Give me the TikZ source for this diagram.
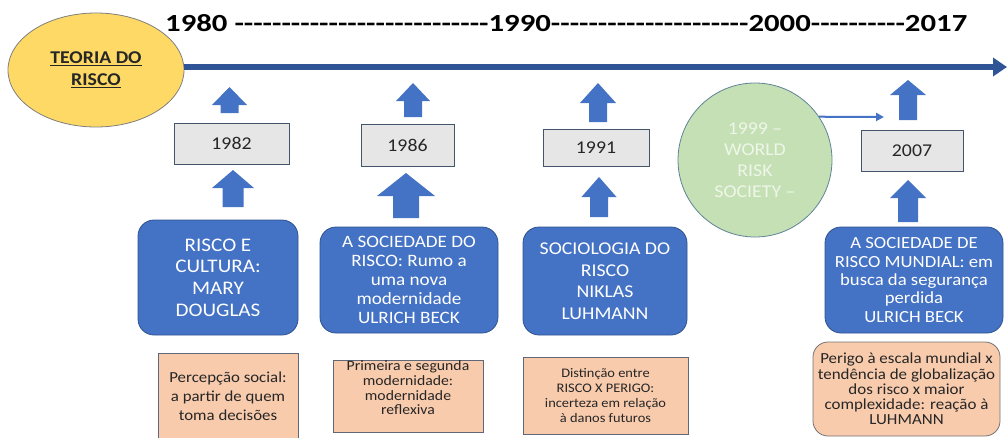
\documentclass[tikz,border=0pt]{standalone}
\usepackage{fontspec}
\setmainfont{Carlito}[FakeStretch=1.1]
\newfontfamily\yearfont{Carlito}[FakeStretch=1.25]
\usetikzlibrary{arrows.meta,shapes.geometric}
\definecolor{bluebox}{HTML}{4472C4}
\definecolor{blueline}{HTML}{2F5597}
\definecolor{blueedge}{HTML}{2F528F}
\definecolor{graybox}{HTML}{E7E6E6}
\definecolor{grayedge}{HTML}{44546A}
\definecolor{peach}{HTML}{F8CBAD}
\definecolor{peachedge}{HTML}{5E6878}
\definecolor{goldfill}{HTML}{FFD966}
\definecolor{goldedge}{HTML}{7F7F7F}
\definecolor{leafgreen}{HTML}{C5E0B4}
\definecolor{leafedge}{HTML}{5F8497}
\definecolor{leaftext}{HTML}{EEF6E9}
\newcommand\dashrun[1]{\foreach \i in {1,...,#1}{\hbox{-}}}
% x, ytop, ybottom, head half width, shaft half width, head length
\newcommand\blkarr[6]{\fill[bluebox] ({#1-#5},#3) -- ({#1-#5},{#2+#6}) -- ({#1-#4},{#2+#6}) -- (#1,#2) -- ({#1+#4},{#2+#6}) -- ({#1+#5},{#2+#6}) -- ({#1+#5},#3) -- cycle;}
\tikzset{
  yearbox/.style={draw=grayedge, line width=0.8pt, fill=graybox, text=black!85, inner sep=0pt, font=\fontsize{18}{20}\selectfont},
  bluecard/.style={draw=blueedge, line width=0.8pt, fill=bluebox, text=white, rounded corners=16pt, inner sep=0pt, align=center},
  peachcard/.style={draw=peachedge, line width=0.8pt, fill=peach, text=black!85, inner sep=0pt, align=center},
}
\begin{document}
\begin{tikzpicture}[x=1pt,y=-1pt]
\useasboundingbox (0,0) rectangle (1008,437);
% title line of years
\node[anchor=base west, inner sep=0pt, font=\yearfont\bfseries\fontsize{24.6}{30}\selectfont] (years) at (165,31.7)
  {1980 \dashrun{27}1990\dashrun{21}2000\dashrun{10}2017};
% theory ellipse
\node[ellipse, draw=goldedge, line width=0.8pt, fill=goldfill, minimum width=176, minimum height=114, inner sep=0pt,
  align=center, text=black!85, font=\bfseries\fontsize{18}{21.7}\selectfont] (teoria) at (96,70)
  {\underline{TEORIA DO}\\\underline{RISCO}};
% timeline
\coordinate (tlend) at (1007,67);
\draw[blueline, line width=5.5pt, -{Triangle[length=14pt,width=18pt]}] (teoria.east |- tlend) -- (tlend);
% year boxes
\node[yearbox, minimum width=115, minimum height=41] (y1982) at (231.5,143.5) {1982};
\node[yearbox, minimum width=93, minimum height=42] (y1986) at (407.5,145) {1986};
\node[yearbox, minimum width=106, minimum height=37] (y1991) at (596,147.5) {1991};
\node[yearbox, minimum width=102, minimum height=41] (y2007) at (912,150.5) {2007};
% blue cards
\node[bluecard, minimum width=160, minimum height=115, font=\fontsize{19.2}{21.7}\selectfont] (b1) at (218,277.5)
  {RISCO E\\CULTURA:\\MARY\\DOUGLAS};
\node[bluecard, minimum width=178, minimum height=106, font=\fontsize{17.4}{19}\selectfont] (b2) at (409,280)
  {A SOCIEDADE DO\\RISCO: Rumo a\\uma nova\\modernidade\\ULRICH BECK};
\node[bluecard, minimum width=164, minimum height=108, font=\fontsize{18}{21.5}\selectfont] (b3) at (605,281)
  {SOCIOLOGIA DO\\RISCO\\NIKLAS\\LUHMANN};
\node[bluecard, minimum width=178, minimum height=106, font=\fontsize{17}{18.3}\selectfont] (b4) at (914,280)
  {A SOCIEDADE DE\\RISCO MUNDIAL: em\\busca da segurança\\perdida\\ULRICH BECK};
% green circle
\node[circle, draw=leafedge, line width=0.8pt, fill=leafgreen, minimum size=154, inner sep=0pt, align=center,
  text=leaftext, font=\fontsize{18}{21}\selectfont] (wrs) at (755,160)
  {1999 –\\WORLD\\RISK\\SOCIETY –};
\coordinate (thinend) at (884,117);
\draw[bluebox, line width=2pt, -{Triangle[length=8pt,width=8pt]}] (wrs.34) -- (thinend);
% peach cards
\node[peachcard, minimum width=140, minimum height=86, font=\fontsize{15.3}{19}\selectfont] (o1) at (228,396)
  {Percepção social:\\a partir de quem\\toma decisões};
\node[peachcard, minimum width=150, minimum height=72] (o2) at (408,396) {};
\node[align=center, inner sep=0pt, text=black!85, font=\fontsize{14.3}{14.7}\selectfont] (o2t) at (408,388)
  {Primeira e segunda\\modernidade:\\modernidade\\reflexiva};
\node[peachcard, minimum width=165, minimum height=77, font=\fontsize{13.1}{15.3}\selectfont] (o3) at (605.5,395.5)
  {Distinção entre\\RISCO X PERIGO:\\incerteza em relação\\à danos futuros};
\node[peachcard, draw=black!55, rounded corners=15pt, minimum width=187, minimum height=94, font=\fontsize{15.4}{15.25}\selectfont] (o4) at (906.5,389)
  {Perigo à escala mundial x\\tendência de globalização\\dos risco x maior\\complexidade: reação à\\LUHMANN};
% block arrows
\blkarr{229.5}{87}{113}{17.5}{9}{18}
\blkarr{233}{170}{207}{21}{10.5}{18}
\blkarr{413}{83}{117}{17}{9}{18}
\blkarr{406}{173}{218}{29}{13}{23}
\blkarr{598}{83}{122}{18}{9}{20}
\blkarr{599}{177}{217}{17.5}{9}{20}
\blkarr{908}{80}{120}{18}{9}{15}
\blkarr{908}{180}{222}{18}{10}{18}
\end{tikzpicture}
\end{document}
